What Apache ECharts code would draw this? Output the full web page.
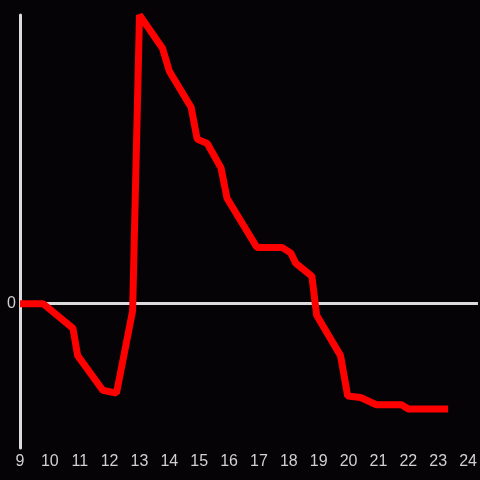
<!DOCTYPE html>
<html>
<head>
<meta charset="utf-8">
<script src="https://cdn.jsdelivr.net/npm/echarts@6/dist/echarts.min.js"></script>
<style>
  html, body { margin: 0; padding: 0; background: #050306; }
  #chart { width: 480px; height: 480px; }
</style>
</head>
<body>
<div id="chart"></div>
<script>
// hours of the day (x) and values (y)
const hours = [9, 9.77, 10.77, 10.93, 11.77, 12.23, 12.77, 13.0, 13.77, 14.0, 14.73, 14.93, 15.27, 15.73, 15.93, 16.93, 17.77, 18.07, 18.23, 18.77, 18.93, 19.73, 19.97, 20.4, 20.93, 21.77, 22.0, 23.33]
const values = [0, 0, -0.17, -0.36, -0.6, -0.62, -0.05, 2.0, 1.77, 1.61, 1.36, 1.14, 1.11, 0.94, 0.73, 0.39, 0.39, 0.35, 0.28, 0.19, -0.08, -0.36, -0.64, -0.65, -0.7, -0.7, -0.73, -0.73]
const xTicks = [9, 10, 11, 12, 13, 14, 15, 16, 17, 18, 19, 20, 21, 22, 23, 24]

const chart = echarts.init(document.getElementById('chart'))
const option = {
  backgroundColor: '#050306',
  animation: false,
  grid: { left: 20, right: 0, top: 15, bottom: 32, containLabel: false },
  xAxis: {
    type: 'value',
    min: 9,
    max: 24.33,
    interval: 1,
    axisLine: { show: false },
    axisTick: { show: false },
    splitLine: { show: false },
    axisLabel: {
      color: '#d0d0d0',
      fontSize: 16,
      fontFamily: 'Liberation Sans',
      margin: 6,
      showMaxLabel: false,
      formatter: v => xTicks.includes(v) ? String(v) : ''
    }
  },
  yAxis: {
    type: 'value',
    min: -1,
    max: 2,
    interval: 1,
    axisLine: { show: true, onZero: false, lineStyle: { color: '#dcdcdc', width: 3 } },
    axisTick: { show: false },
    splitLine: { show: false },
    axisLabel: {
      color: '#d0d0d0',
      fontSize: 16,
      fontFamily: 'Liberation Sans',
      margin: 4,
      padding: [5, 0, 0, 0],
      formatter: v => v === 0 ? '0' : ''
    }
  },
  series: [
    {
      type: 'line',
      data: hours.map((h, i) => [h, values[i]]),
      symbol: 'none',
      lineStyle: { color: '#ff0000', width: 7 },
      z: 3,
      markLine: {
        silent: true,
        symbol: 'none',
        label: { show: false },
        lineStyle: { color: '#dcdcdc', width: 3, type: 'solid' },
        data: [{ yAxis: 0 }],
        z: 1
      }
    }
  ]
}
chart.setOption(option)
</script>
</body>
</html>
